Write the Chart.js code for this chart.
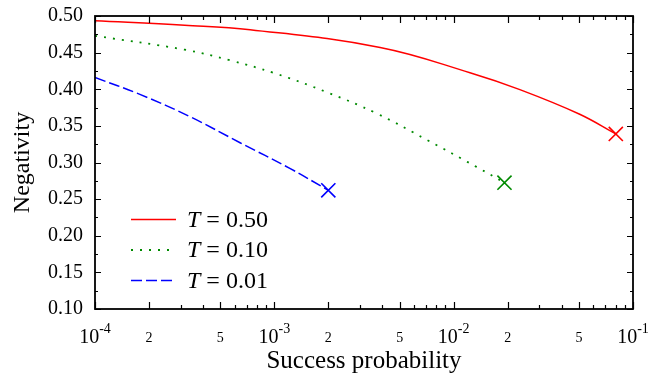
<!DOCTYPE html>
<html>
<head>
<meta charset="utf-8">
<script src="https://cdn.jsdelivr.net/npm/chart.js@4/dist/chart.umd.min.js"></script>
<style>
  html, body { margin: 0; padding: 0; background: #fff; }
  canvas { display: block; }
</style>
</head>
<body>
<canvas id="c" width="665" height="376"></canvas>
<script>
// ---- data ----
const seriesLabels = ['T = 0.50', 'T = 0.10', 'T = 0.01'];
const xRed   = [1e-4, 3.16e-4, 7.33e-4, 3.89e-3, 1.233e-2, 2.34e-2, 5.01e-2, 8.02e-2];
const yRed   = [0.4936, 0.4875, 0.4813, 0.457, 0.4226, 0.3995, 0.3662, 0.339];
const xGreen = [1e-4, 3.16e-4, 5.66e-4, 1e-3, 1.96e-3, 3.72e-3, 7.08e-3, 1.34e-2, 1.92e-2];
const yGreen = [0.473, 0.454, 0.4395, 0.422, 0.396, 0.367, 0.331, 0.294, 0.2725];
const xBlue  = [1e-4, 1.78e-4, 3.39e-4, 6.44e-4, 1.22e-3, 2e-3];
const yBlue  = [0.416, 0.393, 0.3625, 0.327, 0.292, 0.262];
const xTickDecades = [-4, -3, -2, -1];
const xTickMantissas = [1, 2, 3, 4, 5, 6, 7, 8, 9];
const xLabeledMantissas = [2, 5];
const yMin = 0.10, yMax = 0.50, yStep = 0.025, yLabelStep = 0.05;
const xMin = 1e-4, xMax = 1e-1;

const SERIF = '"Liberation Serif", "Times New Roman", "DejaVu Serif", serif';

function mantissaOf(v) {
  const e = Math.floor(Math.log10(v) + 1e-9);
  return Math.round(v / Math.pow(10, e));
}
function exponentOf(v) { return Math.floor(Math.log10(v) + 1e-9); }

const xTickValues = [];
xTickDecades.forEach(d => xTickMantissas.forEach(m => {
  const v = m * Math.pow(10, d);
  if (v <= xMax * 1.0001) xTickValues.push(Number(v.toPrecision(6)));
}));

const pts = (xs, ys) => xs.map((x, i) => ({x: x, y: ys[i]}));
const endMarker = n => (c => c.dataIndex === n - 1 ? 10 : 0);

// ---- inner ticks + frame ----
const framePlugin = {
  id: 'frame',
  afterDatasetsDraw(chart) {
    const {ctx, chartArea: a, scales: {x, y}} = chart;
    ctx.save();
    ctx.strokeStyle = '#000';
    ctx.lineWidth = 1.2;
    x.ticks.forEach(t => {
      const px = Math.round(x.getPixelForValue(t.value)) + 0.5;
      const m = mantissaOf(t.value);
      const len = (m === 1 || xLabeledMantissas.includes(m)) ? 7 : 4;
      ctx.beginPath();
      ctx.moveTo(px, a.bottom); ctx.lineTo(px, a.bottom - len);
      ctx.moveTo(px, a.top); ctx.lineTo(px, a.top + len);
      ctx.stroke();
    });
    y.ticks.forEach(t => {
      const py = Math.round(y.getPixelForValue(t.value)) + 0.5;
      const major = Math.abs(Math.round(t.value / yLabelStep) * yLabelStep - t.value) < 1e-6;
      const len = major ? 6 : 3;
      ctx.beginPath();
      ctx.moveTo(a.left, py); ctx.lineTo(a.left + len, py);
      ctx.moveTo(a.right, py); ctx.lineTo(a.right - len, py);
      ctx.stroke();
    });
    ctx.lineWidth = 1.8;
    ctx.strokeRect(a.left, a.top, a.right - a.left, a.bottom - a.top);
    ctx.restore();
  }
};

// ---- decade labels 10^n with a raised exponent ----
const decadeLabelPlugin = {
  id: 'decadeLabels',
  afterDraw(chart) {
    const {ctx, scales: {x}} = chart;
    ctx.save();
    ctx.fillStyle = '#000';
    ctx.textBaseline = 'alphabetic';
    ctx.textAlign = 'left';
    x.ticks.forEach(t => {
      if (mantissaOf(t.value) !== 1) return;
      const base = '10', exp = String(exponentOf(t.value));
      ctx.font = '20px ' + SERIF;
      const wb = ctx.measureText(base).width;
      ctx.font = '14px ' + SERIF;
      const we = ctx.measureText(exp).width;
      const px = x.getPixelForValue(t.value);
      const x0 = px - (wb + we) / 2;
      ctx.font = '20px ' + SERIF;
      ctx.fillText(base, x0, x.top + 34);
      ctx.font = '14px ' + SERIF;
      ctx.fillText(exp, x0 + wb, x.top + 24);
    });
    ctx.restore();
  }
};

// ---- legend drawn inside the plot ----
const legendPlugin = {
  id: 'innerLegend',
  afterDraw(chart) {
    const {ctx, chartArea: a} = chart;
    ctx.save();
    chart.data.datasets.forEach((ds, i) => {
      const yy = a.top + 203.5 + i * 30.5;
      ctx.strokeStyle = ds.borderColor;
      ctx.lineWidth = ds.borderWidth;
      ctx.setLineDash(ds.borderDash || []);
      ctx.beginPath();
      ctx.moveTo(a.left + 36, yy); ctx.lineTo(a.left + 81, yy);
      ctx.stroke();
      ctx.setLineDash([]);
      ctx.fillStyle = '#000';
      ctx.textBaseline = 'middle';
      ctx.textAlign = 'left';
      const label = ds.label;
      const first = label.charAt(0), rest = label.slice(1);
      let tx = a.left + 92;
      ctx.font = 'italic 24px ' + SERIF;
      ctx.fillText(first, tx, yy + 1);
      tx += ctx.measureText(first).width;
      ctx.font = '24px ' + SERIF;
      ctx.fillText(rest, tx, yy + 1);
    });
    ctx.restore();
  }
};

new Chart(document.getElementById('c'), {
  type: 'line',
  data: {
    datasets: [
      { label: seriesLabels[0], data: pts(xRed, yRed), borderColor: '#ff0000', backgroundColor: '#ff0000',
        borderWidth: 1.5, pointRadius: endMarker(xRed.length), pointStyle: 'crossRot', pointBorderWidth: 1.6,
        tension: 0.4, fill: false },
      { label: seriesLabels[1], data: pts(xGreen, yGreen), borderColor: '#008a00', backgroundColor: '#008a00',
        borderWidth: 1.8, borderDash: [2, 7], pointRadius: endMarker(xGreen.length), pointStyle: 'crossRot', pointBorderWidth: 1.6,
        tension: 0.4, fill: false },
      { label: seriesLabels[2], data: pts(xBlue, yBlue), borderColor: '#0000ff', backgroundColor: '#0000ff',
        borderWidth: 1.5, borderDash: [11, 4], pointRadius: endMarker(xBlue.length), pointStyle: 'crossRot', pointBorderWidth: 1.6,
        tension: 0.4, fill: false }
    ]
  },
  options: {
    responsive: false,
    animation: false,
    devicePixelRatio: 1,
    layout: { padding: { left: 0, right: 32, top: 16, bottom: 0 } },
    plugins: { legend: { display: false }, tooltip: { enabled: false } },
    elements: { point: { hoverRadius: 0 } },
    scales: {
      x: {
        type: 'logarithmic',
        min: xMin, max: xMax,
        afterBuildTicks: s => { s.ticks = xTickValues.map(v => ({ value: v })); },
        afterFit: s => { s.height = 67; s.paddingLeft = 0; s.paddingRight = 0; },
        grid: { display: false, drawTicks: false },
        border: { display: false },
        ticks: {
          autoSkip: false, maxRotation: 0, minRotation: 0, padding: 21, color: '#000',
          callback: v => {
            const m = mantissaOf(v);
            return xLabeledMantissas.includes(m) ? String(m) : '';
          },
          font: { family: SERIF, size: 14 }
        },
        title: { display: true, text: 'Success probability', color: '#000',
                 font: { family: SERIF, size: 25 }, padding: { top: 0, bottom: 0 } }
      },
      y: {
        min: yMin, max: yMax,
        afterFit: s => { s.width = 95; s.paddingTop = 0; s.paddingBottom = 0; },
        grid: { display: false, drawTicks: false },
        border: { display: false },
        ticks: {
          stepSize: yStep, autoSkip: false, padding: 12, color: '#000',
          font: { family: SERIF, size: 20 },
          callback: v => {
            const k = v / yLabelStep;
            return Math.abs(k - Math.round(k)) < 1e-6 ? v.toFixed(2) : '';
          }
        },
        title: { display: true, text: 'Negativity', color: '#000',
                 font: { family: SERIF, size: 24 }, padding: { top: 8, bottom: 0 } }
      }
    }
  },
  plugins: [framePlugin, decadeLabelPlugin, legendPlugin]
});
</script>
</body>
</html>
